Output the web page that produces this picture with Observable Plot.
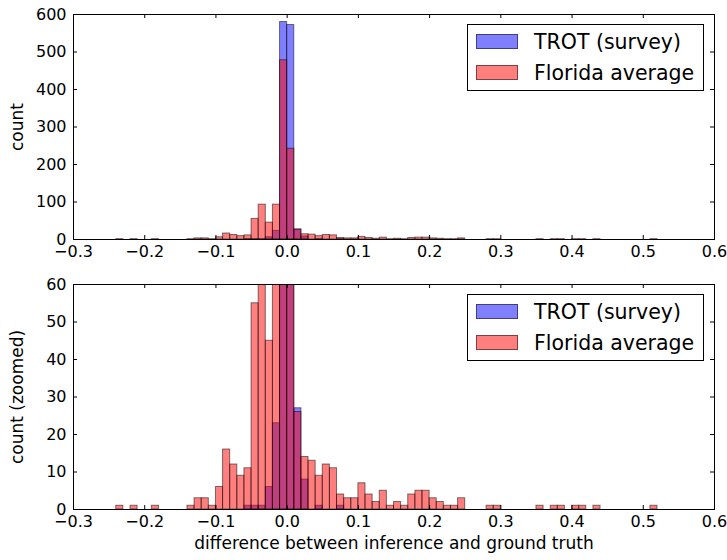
<!DOCTYPE html>
<html>
<head>
<meta charset="utf-8">
<script src="https://cdn.jsdelivr.net/npm/d3@7"></script>
<script src="https://cdn.jsdelivr.net/npm/@observablehq/plot@0.6"></script>
<style>
  body { margin: 0; background: #fff; font-family: "DejaVu Sans", sans-serif; }
  #wrap { position: relative; width: 727px; height: 560px; overflow: hidden; }
  #wrap svg { display: block; }
  .legend { position: absolute; left: 467px; width: 237px; height: 67px; border: 1px solid #000; box-sizing: border-box; background: #fff; }
  .legend .patch { position: absolute; left: 8px; width: 42px; height: 15px; box-sizing: border-box; border: 1px solid rgba(0,0,0,0.5); }
  .legend .lab { position: absolute; left: 66px; font-size: 20.5px; line-height: 20px; white-space: nowrap; color: #000; }
</style>
</head>
<body>
<div id="wrap"></div>
<script>
// ---- data ----
const seriesNames = ["TROT (survey)", "Florida average"];
const seriesColors = ["blue", "red"];
// left edges of histogram bins (bin width 0.01)
const binStart = [
  -0.24, -0.23, -0.22, -0.21, -0.20, -0.19, -0.18, -0.17, -0.16, -0.15,
  -0.14, -0.13, -0.12, -0.11, -0.10, -0.09, -0.08, -0.07, -0.06, -0.05,
  -0.04, -0.03, -0.02, -0.01, 0.00, 0.01, 0.02, 0.03, 0.04, 0.05,
  0.06, 0.07, 0.08, 0.09, 0.10, 0.11, 0.12, 0.13, 0.14, 0.15,
  0.16, 0.17, 0.18, 0.19, 0.20, 0.21, 0.22, 0.23, 0.24, 0.25,
  0.26, 0.27, 0.28, 0.29, 0.30, 0.31, 0.32, 0.33, 0.34, 0.35,
  0.36, 0.37, 0.38, 0.39, 0.40, 0.41, 0.42, 0.43, 0.44, 0.45,
  0.46, 0.47, 0.48, 0.49, 0.50, 0.51
];
const binWidth = 0.01;
const trotCounts = [
  0, 0, 0, 0, 0, 0, 0, 0, 0, 0,
  0, 0, 0, 0, 0, 0, 0, 0, 1, 1,
  1, 6, 23, 580, 572, 27, 8, 0, 1, 0,
  0, 1, 0, 0, 0, 0, 0, 0, 0, 0,
  0, 0, 0, 0, 0, 0, 0, 0, 0, 0,
  0, 0, 0, 0, 0, 0, 0, 0, 0, 0,
  0, 0, 0, 0, 0, 0, 0, 0, 0, 0,
  0, 0, 0, 0, 0, 0
];
const floridaCounts = [
  1, 0, 1, 0, 0, 1, 0, 0, 0, 0,
  1, 3, 3, 1, 6, 16, 12, 9, 11, 55,
  93, 45, 93, 478, 242, 26, 14, 13, 9, 12,
  11, 4, 3, 3, 7, 4, 2, 5, 1, 2,
  1, 4, 5, 5, 3, 2, 1, 1, 3, 0,
  0, 0, 1, 1, 0, 0, 0, 0, 0, 1,
  0, 1, 1, 0, 1, 1, 0, 1, 0, 0,
  0, 0, 0, 0, 0, 1
];
const xTicks = [-0.3, -0.2, -0.1, 0.0, 0.1, 0.2, 0.3, 0.4, 0.5, 0.6];
const yTicksTop = [0, 100, 200, 300, 400, 500, 600];
const yTicksBottom = [0, 10, 20, 30, 40, 50, 60];
const xLabel = "difference between inference and ground truth";

// ---- build tables ----
function table(counts) {
  return binStart.map((s, i) => ({x1: s, x2: s + binWidth, count: counts[i]})).filter(d => d.count > 0);
}
const trotBins = table(trotCounts);
const floridaBins = table(floridaCounts);

const W = 727, ML = 73, MR = 13;
const fmt = d3.format(".1f");
const TICK_FS = 16, LABEL_FS = 17;

function panel({yMax, yTicks, yLabel, height, marginTop, marginBottom, withXLabel}) {
  const innerH = height - marginTop - marginBottom;
  const innerW = W - ML - MR;
  const marks = [
    Plot.rectY(trotBins, {x1: "x1", x2: "x2", y: "count", fill: seriesColors[0], fillOpacity: 0.5, stroke: "black", strokeOpacity: 0.5, strokeWidth: 1, clip: true}),
    Plot.rectY(floridaBins, {x1: "x1", x2: "x2", y: "count", fill: seriesColors[1], fillOpacity: 0.5, stroke: "black", strokeOpacity: 0.5, strokeWidth: 1, clip: true}),
    Plot.frame({stroke: "black", strokeWidth: 1}),
    Plot.tickX(xTicks, {x: d => d, insetTop: innerH - 4, stroke: "black"}),
    Plot.tickX(xTicks, {x: d => d, insetBottom: innerH - 4, stroke: "black"}),
    Plot.tickY(yTicks, {y: d => d, insetRight: innerW - 4, stroke: "black"}),
    Plot.tickY(yTicks, {y: d => d, insetLeft: innerW - 4, stroke: "black"}),
    Plot.axisX(xTicks, {tickSize: 0, tickPadding: 6, tickFormat: fmt, label: null, fontSize: TICK_FS}),
    Plot.axisY(yTicks, {tickSize: 0, tickPadding: 7, tickFormat: d => String(d), label: null, fontSize: TICK_FS}),
    Plot.text([yLabel], {text: d => d, frameAnchor: "left", textAnchor: "middle", rotate: -90, dx: -56, fontSize: LABEL_FS, fill: "black"})
  ];
  if (withXLabel) {
    marks.push(Plot.text([xLabel], {text: d => d, frameAnchor: "bottom", textAnchor: "middle", dy: 39, fontSize: LABEL_FS, fill: "black"}));
  }
  return Plot.plot({
    width: W, height, marginLeft: ML, marginRight: MR, marginTop, marginBottom,
    style: {fontFamily: "DejaVu Sans", color: "black", background: "white", overflow: "visible"},
    x: {domain: [-0.3, 0.6]},
    y: {domain: [0, yMax]},
    marks
  });
}

const wrap = document.getElementById("wrap");
wrap.appendChild(panel({yMax: 600, yTicks: yTicksTop, yLabel: "count", height: 270, marginTop: 14, marginBottom: 31, withXLabel: false}));
wrap.appendChild(panel({yMax: 60, yTicks: yTicksBottom, yLabel: "count (zoomed)", height: 290, marginTop: 14, marginBottom: 51, withXLabel: true}));

function legend(top) {
  const box = document.createElement("div");
  box.className = "legend";
  box.style.top = top + "px";
  seriesNames.forEach((name, i) => {
    const patch = document.createElement("div");
    patch.className = "patch";
    patch.style.top = (9 + i * 31) + "px";
    patch.style.background = i === 0 ? "rgba(0,0,255,0.5)" : "rgba(255,0,0,0.5)";
    box.appendChild(patch);
    const lab = document.createElement("div");
    lab.className = "lab";
    lab.style.top = (7 + i * 31) + "px";
    lab.textContent = name;
    box.appendChild(lab);
  });
  wrap.appendChild(box);
}
legend(24);
legend(294);
</script>
</body>
</html>
